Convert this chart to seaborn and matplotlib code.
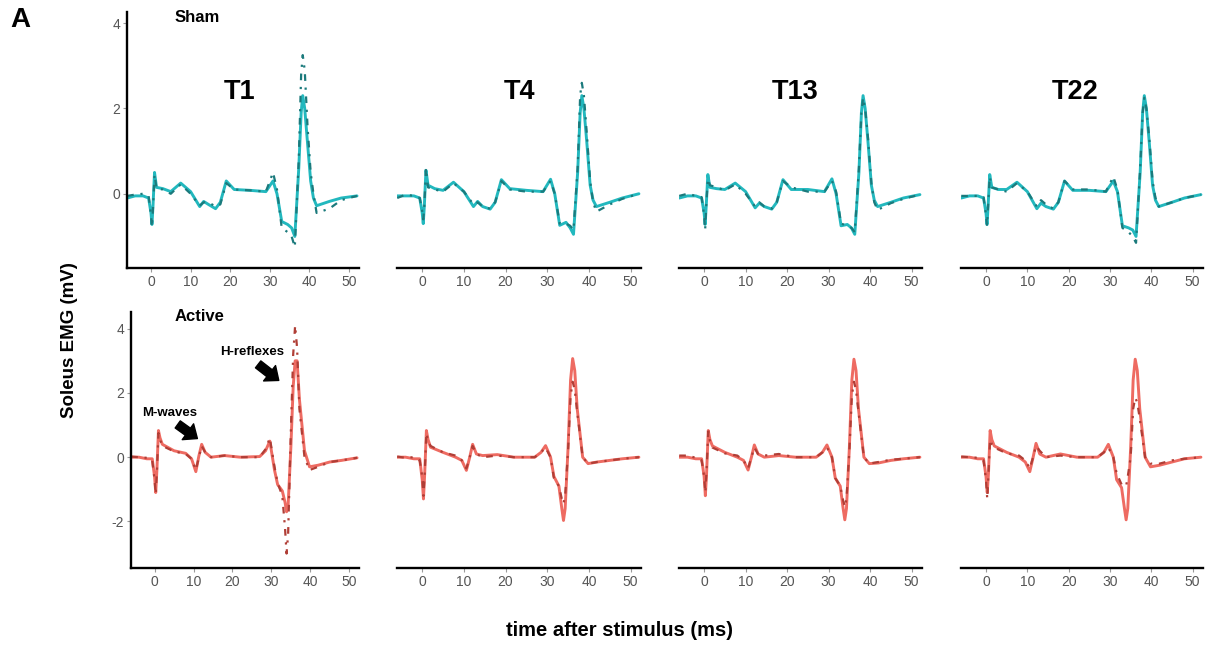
import matplotlib
matplotlib.use("Agg")
import matplotlib.pyplot as plt
import pandas as pd
import seaborn as sns

# ---------------- data ----------------
sessions = ["T1", "T4", "T13", "T22"]
groups = ["Sham", "Active"]
x_ticks = [0, 10, 20, 30, 40, 50]
sham_y_ticks = [0, 2, 4]
active_y_ticks = [-2, 0, 2, 4]

time_sham = [-6, -4, -2, -0.6, 0.0, 0.25, 0.5, 0.9, 1.4, 3, 5, 7.5, 10, 12.3, 13.3, 14.5, 16.3, 17.5,
             19, 21, 25, 29, 30.8, 31.8, 33, 34.5, 35.5, 36.3, 37.3, 37.9, 38.3, 38.8, 39.5, 40.3,
             41.0, 41.8, 45, 48, 52]
time_active = [-6, -4, -2, -0.6, 0.0, 0.3, 0.6, 1.0, 1.4, 2.0, 5, 8, 9.5, 10.6, 11.4, 12.1, 13, 14.5,
               18, 22, 27, 28.5, 29.6, 30.8, 31.6, 32.8, 33.5, 33.9, 34.3, 35, 35.6, 36.1, 36.6, 37.2,
               38.5, 39.8, 42, 45, 48, 52]

sham_t1_solid = [-0.1, -0.05, -0.05, -0.1, -0.45, -0.72, -0.3, 0.5, 0.15, 0.12, 0.05, 0.25, 0.05,
                 -0.3, -0.18, -0.25, -0.35, -0.2, 0.3, 0.1, 0.08, 0.05, 0.3, 0.0, -0.65, -0.72, -0.8,
                 -1.0, 0.6, 1.9, 2.3, 2.0, 1.2, 0.3, -0.1, -0.28, -0.18, -0.1, -0.05]
sham_t1_dashed = [-0.05, -0.02, 0.0, -0.05, -0.5, -0.78, -0.35, 0.45, 0.12, 0.1, 0.0, 0.22, 0.0,
                  -0.28, -0.2, -0.2, -0.3, -0.25, 0.25, 0.1, 0.08, 0.05, 0.5, 0.1, -0.8, -0.9, -1.0,
                  -1.25, 0.8, 2.8, 3.25, 2.9, 1.6, 0.5, 0.0, -0.45, -0.35, -0.15, -0.05]
sham_t4_solid = [-0.05, -0.05, -0.05, -0.1, -0.45, -0.7, -0.3, 0.55, 0.2, 0.12, 0.08, 0.27, 0.05,
                 -0.3, -0.18, -0.3, -0.36, -0.2, 0.33, 0.12, 0.08, 0.05, 0.34, 0.0, -0.74, -0.67, -0.8,
                 -0.95, 0.5, 1.9, 2.3, 2.0, 1.2, 0.2, -0.15, -0.3, -0.2, -0.1, 0.0]
sham_t4_dashed = [-0.1, -0.02, -0.05, -0.1, -0.4, -0.6, -0.3, 0.6, 0.15, 0.1, 0.05, 0.25, 0.05,
                  -0.25, -0.2, -0.3, -0.35, -0.2, 0.3, 0.1, 0.05, 0.05, 0.3, 0.0, -0.7, -0.7, -0.75,
                  -0.85, 0.6, 2.3, 2.6, 2.3, 1.4, 0.3, -0.2, -0.42, -0.25, -0.12, 0.0]
sham_t13_solid = [-0.1, -0.05, -0.05, -0.1, -0.45, -0.72, -0.3, 0.45, 0.15, 0.12, 0.1, 0.25, 0.05,
                  -0.33, -0.22, -0.3, -0.36, -0.2, 0.33, 0.1, 0.1, 0.05, 0.35, 0.0, -0.75, -0.72, -0.8,
                  -0.95, 0.5, 1.9, 2.3, 2.0, 1.2, 0.2, -0.15, -0.3, -0.2, -0.1, -0.02]
sham_t13_dashed = [-0.05, 0.0, -0.05, -0.08, -0.5, -0.85, -0.3, 0.35, 0.2, 0.15, 0.08, 0.22, 0.0,
                   -0.3, -0.2, -0.3, -0.35, -0.2, 0.3, 0.15, 0.05, 0.05, 0.3, 0.05, -0.7, -0.75, -0.8,
                   -0.9, 0.6, 1.9, 2.25, 2.0, 1.3, 0.25, -0.2, -0.38, -0.22, -0.12, -0.02]
sham_t22_solid = [-0.1, -0.05, -0.05, -0.1, -0.45, -0.72, -0.3, 0.45, 0.15, 0.1, 0.1, 0.27, 0.05,
                  -0.35, -0.22, -0.3, -0.36, -0.2, 0.3, 0.08, 0.08, 0.05, 0.3, 0.05, -0.75, -0.8, -0.85,
                  -1.0, 0.5, 1.9, 2.3, 2.0, 1.2, 0.2, -0.15, -0.3, -0.2, -0.1, -0.02]
sham_t22_dashed = [-0.05, -0.05, -0.05, -0.08, -0.5, -0.75, -0.3, 0.4, 0.15, 0.1, 0.05, 0.25, 0.05,
                   -0.3, -0.15, -0.25, -0.35, -0.2, 0.3, 0.1, 0.1, 0.05, 0.4, 0.1, -0.8, -0.9, -1.0,
                   -1.15, 0.6, 1.9, 2.25, 2.0, 1.3, 0.3, -0.1, -0.3, -0.2, -0.1, -0.02]

active_t1_solid = [0.0, 0.0, -0.05, -0.05, -0.6, -1.1, -0.4, 0.83, 0.6, 0.4, 0.2, 0.12, -0.05, -0.45,
                   0.05, 0.4, 0.15, 0.0, 0.05, 0.0, 0.02, 0.2, 0.5, -0.4, -0.85, -1.05, -1.4, -1.7, -1.5,
                   0.3, 2.2, 3.0, 3.0, 1.8, 0.2, -0.3, -0.25, -0.15, -0.1, -0.02]
active_t1_dashed = [0.02, 0.0, -0.02, -0.1, -0.7, -1.15, -0.45, 0.75, 0.55, 0.35, 0.18, 0.1, -0.05, -0.4,
                    0.0, 0.35, 0.15, 0.0, 0.05, 0.0, 0.0, 0.25, 0.6, -0.3, -0.8, -1.2, -2.2, -3.0, -2.4,
                    0.8, 3.2, 4.1, 3.4, 1.5, 0.0, -0.4, -0.3, -0.15, -0.1, -0.02]
active_t4_solid = [0.0, 0.0, -0.05, -0.05, -0.7, -1.3, -0.5, 0.83, 0.55, 0.31, 0.15, 0.0, -0.1, -0.41,
                   0.0, 0.4, 0.1, 0.05, 0.08, 0.0, 0.0, 0.15, 0.36, 0.0, -0.6, -0.9, -1.6, -1.97, -1.6,
                   0.3, 2.4, 3.07, 2.7, 1.5, 0.0, -0.2, -0.15, -0.1, -0.05, 0.0]
active_t4_dashed = [0.02, -0.02, 0.0, -0.1, -0.6, -1.2, -0.5, 0.75, 0.5, 0.35, 0.15, 0.05, -0.1, -0.35,
                    0.0, 0.35, 0.1, 0.0, 0.05, 0.0, 0.0, 0.15, 0.3, 0.0, -0.65, -0.9, -1.3, -1.45, -1.2,
                    0.2, 1.9, 2.35, 2.1, 1.4, 0.0, -0.2, -0.15, -0.1, -0.05, 0.0]
active_t13_solid = [0.0, 0.0, -0.05, -0.05, -0.6, -1.2, -0.5, 0.83, 0.55, 0.35, 0.15, 0.0, -0.1, -0.4,
                    0.0, 0.38, 0.1, 0.0, 0.05, 0.0, 0.0, 0.15, 0.38, 0.0, -0.65, -0.9, -1.6, -1.95, -1.6,
                    0.3, 2.4, 3.05, 2.7, 1.5, 0.0, -0.2, -0.18, -0.1, -0.05, 0.0]
active_t13_dashed = [0.05, 0.05, -0.02, -0.1, -0.6, -1.1, -0.4, 0.8, 0.5, 0.3, 0.12, 0.05, -0.1, -0.35,
                     0.0, 0.3, 0.1, 0.05, 0.1, 0.0, 0.0, 0.15, 0.3, 0.0, -0.65, -0.9, -1.35, -1.55, -1.3,
                     0.2, 1.9, 2.35, 2.1, 1.4, 0.0, -0.2, -0.15, -0.08, -0.05, 0.0]
active_t22_solid = [0.0, 0.0, -0.05, -0.05, -0.6, -1.1, -0.5, 0.83, 0.55, 0.35, 0.15, 0.0, -0.15, -0.45,
                    0.0, 0.43, 0.1, 0.0, 0.1, 0.0, 0.0, 0.15, 0.4, 0.0, -0.7, -0.95, -1.6, -1.95, -1.6,
                    0.3, 2.4, 3.05, 2.7, 1.5, 0.0, -0.3, -0.25, -0.15, -0.05, 0.0]
active_t22_dashed = [0.02, 0.0, -0.02, -0.1, -0.7, -1.3, -0.5, 0.55, 0.4, 0.3, 0.12, 0.05, -0.1, -0.35,
                     0.0, 0.35, 0.2, 0.0, 0.05, 0.0, 0.0, 0.15, 0.3, 0.0, -0.5, -0.85, -0.9, -0.9, -0.6,
                     0.0, 1.5, 1.85, 1.7, 1.2, 0.0, -0.2, -0.2, -0.1, -0.05, 0.0]

traces = {
    ("Sham", "T1"): (sham_t1_solid, sham_t1_dashed),
    ("Sham", "T4"): (sham_t4_solid, sham_t4_dashed),
    ("Sham", "T13"): (sham_t13_solid, sham_t13_dashed),
    ("Sham", "T22"): (sham_t22_solid, sham_t22_dashed),
    ("Active", "T1"): (active_t1_solid, active_t1_dashed),
    ("Active", "T4"): (active_t4_solid, active_t4_dashed),
    ("Active", "T13"): (active_t13_solid, active_t13_dashed),
    ("Active", "T22"): (active_t22_solid, active_t22_dashed),
}

rows = []
for (g, s), (sol, das) in traces.items():
    tt = time_sham if g == "Sham" else time_active
    for kind, vals in (("solid", sol), ("dashed", das)):
        for t, v in zip(tt, vals):
            rows.append({"group": g, "session": s, "trace": kind, "time": t, "emg": v})
df = pd.DataFrame(rows)

# ---------------- style ----------------
sns.set_theme(style="white")
plt.rcParams["font.family"] = ["Liberation Sans", "DejaVu Sans"]
plt.rcParams["axes.unicode_minus"] = False
plt.rcParams["text.color"] = "black"

colors = {
    "Sham": {"solid": "#22B8BE", "dashed": "#1B7A7C"},
    "Active": {"solid": "#EE6B62", "dashed": "#B03E36"},
}

W, H = 1213, 649
fig = plt.figure(figsize=(W / 100, H / 100), dpi=100)

col_px = [(127, 232), (397, 244), (679, 243), (961, 242)]
row_px = {"Sham": (12, 268), "Active": (312, 568)}
ylims = {"Sham": (-1.74, 4.26), "Active": (-3.45, 4.52)}
yticks = {"Sham": sham_y_ticks, "Active": active_y_ticks}

axes = {}
for g in groups:
    top, bot = row_px[g]
    for ci, s in enumerate(sessions):
        left, width = col_px[ci]
        if g == "Active" and ci == 0:
            left, width = 131, 228
        ax = fig.add_axes([left / W, (H - bot) / H, width / W, (bot - top) / H])
        sub = df[(df.group == g) & (df.session == s)]
        sns.lineplot(data=sub[sub.trace == "solid"], x="time", y="emg", ax=ax,
                     color=colors[g]["solid"], linewidth=2.1, sort=False, estimator=None)
        sns.lineplot(data=sub[sub.trace == "dashed"], x="time", y="emg", ax=ax,
                     color=colors[g]["dashed"], linewidth=1.6, sort=False, estimator=None,
                     linestyle=(0, (3, 3, 1, 3)))
        ax.set_xlim(-6.05, 52.5)
        ax.set_ylim(*ylims[g])
        ax.set_xticks(x_ticks)
        ax.set_xlabel("")
        ax.set_ylabel("")
        ax.tick_params(axis="both", labelsize=10, labelcolor="#555555", color="#9A9A9A",
                       length=3, width=0.8, pad=2, bottom=True, left=(ci == 0))
        ax.set_facecolor("none")
        for sp in ["top", "right"]:
            ax.spines[sp].set_visible(False)
        ax.spines["bottom"].set_linewidth(1.7)
        ax.spines["bottom"].set_color("black")
        if ci == 0:
            ax.set_yticks(yticks[g])
            ax.spines["left"].set_linewidth(1.7)
            ax.spines["left"].set_color("black")
        else:
            ax.spines["left"].set_visible(False)
            ax.set_yticks([])
        axes[(g, s)] = ax

# titles
title_x = {"T1": 240, "T4": 520, "T13": 795, "T22": 1075}
for s in sessions:
    fig.text(title_x[s] / W, 1 - 92 / H, s, ha="center", va="center",
             fontsize=19.5, fontweight="bold", color="black")

fig.text(197 / W, 1 - 17 / H, "Sham", ha="center", va="center", fontsize=12, fontweight="bold",
         color="black")
fig.text(200 / W, 1 - 317 / H, "Active", ha="center", va="center", fontsize=12, fontweight="bold",
         color="black")
fig.text(20 / W, 1 - 20 / H, "A", ha="center", va="center", fontsize=20, fontweight="bold",
         color="black")
fig.text(70 / W, 1 - 340 / H, "Soleus EMG (mV)", ha="center", va="center", rotation=90,
         fontsize=13.5, fontweight="bold", color="black")
fig.text(620 / W, 1 - 630 / H, "time after stimulus (ms)", ha="center", va="center",
         fontsize=14.5, fontweight="bold", color="black")

# annotations
axA = axes[("Active", "T1")]
arrow_style = "simple,head_length=0.6,head_width=1.0,tail_width=0.45"
axA.text(3.9, 1.39, "M-waves", ha="center", va="center", fontsize=9.5, fontweight="bold",
         color="black")
axA.annotate("", xy=(11.0, 0.58), xytext=(5.95, 1.02),
             arrowprops=dict(arrowstyle=arrow_style, color="black", mutation_scale=14,
                             shrinkA=0, shrinkB=0))
axA.text(25.0, 3.28, "H-reflexes", ha="center", va="center", fontsize=9.5, fontweight="bold",
         color="black")
axA.annotate("", xy=(31.9, 2.39), xytext=(26.6, 2.89),
             arrowprops=dict(arrowstyle=arrow_style, color="black", mutation_scale=14,
                             shrinkA=0, shrinkB=0))

fig.savefig("out.png", dpi=100)
